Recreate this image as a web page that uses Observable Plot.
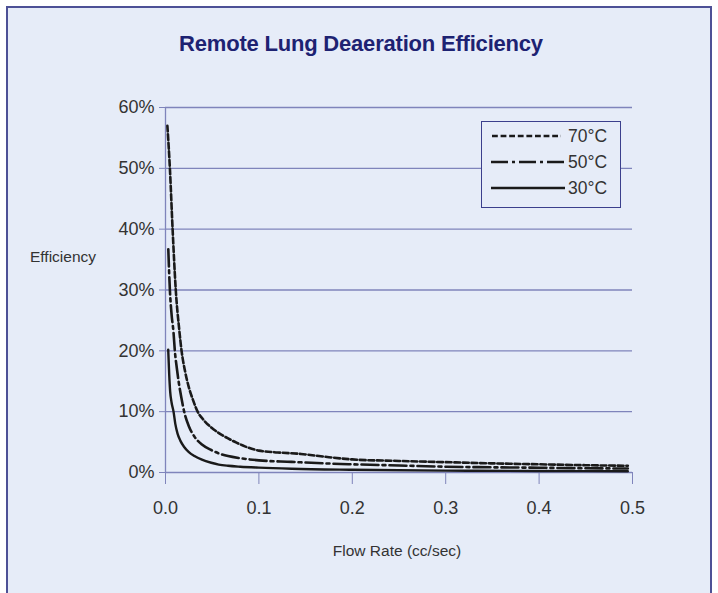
<!DOCTYPE html>
<html>
<head>
<meta charset="utf-8">
<script src="https://cdn.jsdelivr.net/npm/d3@7"></script>
<script src="https://cdn.jsdelivr.net/npm/@observablehq/plot@0.6"></script>
<style>
  html, body { margin: 0; padding: 0; background: #ffffff; }
  body { width: 718px; height: 593px; position: relative; overflow: hidden; font-family: "Liberation Sans", Arial, sans-serif; }
  #frame { position: absolute; left: 6px; top: 6px; width: 706px; height: 600px; border: 2px solid #4d5196; background: #e6ecf8; box-sizing: border-box; }
  #title { position: absolute; left: 0; top: 31px; width: 722px; text-align: center; font-size: 22px; font-weight: bold; color: #1d2272; line-height: 26px; letter-spacing: -0.2px; }
  #ylabel { position: absolute; left: 30px; top: 247px; font-size: 15.5px; color: #333; line-height: 20px; }
  #xlabel { position: absolute; left: 247px; width: 300px; top: 541px; text-align: center; font-size: 15.5px; color: #333; line-height: 20px; }
  #chart { position: absolute; left: 0; top: 0; }
  #legend { position: absolute; left: 481px; top: 121px; width: 140px; height: 87px; border: 1.5px solid #3b3f8c; background: #e6ecf8; box-sizing: border-box; }
  .row { position: absolute; left: 0; height: 20px; width: 140px; }
  .row svg { position: absolute; left: 9px; top: 0; }
  .row span { position: absolute; left: 86px; top: 0; font-size: 17.5px; color: #333; line-height: 20px; }
</style>
</head>
<body>
<div id="frame"></div>
<div id="title">Remote Lung Deaeration Efficiency</div>
<div id="ylabel">Efficiency</div>
<div id="xlabel">Flow Rate (cc/sec)</div>
<div id="chart"></div>
<div id="legend"></div>
<script>
// ---- data ----
const seriesNames = ["70°C", "50°C", "30°C"];

const flow70 = [0.002, 0.0047, 0.0076, 0.011, 0.0147, 0.0172, 0.021, 0.025, 0.0295, 0.0344, 0.041, 0.049, 0.058, 0.067, 0.076, 0.085, 0.1, 0.12, 0.145, 0.17, 0.2, 0.25, 0.3, 0.35, 0.4, 0.45, 0.495];
const eff70  = [57, 50, 40, 30, 23.5, 20, 16.6, 14, 11.9, 10, 8.6, 7.4, 6.4, 5.6, 4.9, 4.3, 3.6, 3.3, 3.05, 2.6, 2.15, 1.9, 1.7, 1.5, 1.35, 1.2, 1.1];

const flow50 = [0.003, 0.0047, 0.0065, 0.0086, 0.010, 0.012, 0.014, 0.017, 0.020, 0.025, 0.031, 0.039, 0.049, 0.057, 0.067, 0.08, 0.1, 0.135, 0.17, 0.2, 0.25, 0.3, 0.35, 0.4, 0.45, 0.495];
const eff50  = [36.7, 30, 26, 23, 20, 17.3, 15, 12.3, 10, 7.6, 5.9, 4.6, 3.7, 3.15, 2.7, 2.35, 2.0, 1.75, 1.5, 1.35, 1.15, 0.95, 0.85, 0.78, 0.7, 0.65];

const flow30 = [0.0029, 0.004, 0.005, 0.0065, 0.0086, 0.0105, 0.0129, 0.016, 0.020, 0.025, 0.031, 0.039, 0.049, 0.057, 0.067, 0.08, 0.1, 0.135, 0.2, 0.3, 0.4, 0.495];
const eff30  = [20.2, 16, 13.3, 11.5, 10, 8, 6.4, 5.2, 4.2, 3.35, 2.7, 2.1, 1.6, 1.3, 1.1, 0.95, 0.8, 0.62, 0.45, 0.3, 0.25, 0.2];

const xTicks = [0, 0.1, 0.2, 0.3, 0.4, 0.5];
const yTicks = [0, 10, 20, 30, 40, 50, 60];

// ---- styles ----
const gridColor = "#7f84bb";
const lineColor = "#1a1a1a";
const dashes = { "70°C": "5.8,2.8", "50°C": "17,4,3,4", "30°C": null };
const widths = { "70°C": 2.6, "50°C": 2.6, "30°C": 2.4 };

const table = [];
[[seriesNames[0], flow70, eff70], [seriesNames[1], flow50, eff50], [seriesNames[2], flow30, eff30]]
  .forEach(([name, xs, ys]) => xs.forEach((x, i) => table.push({series: name, flow: x, eff: ys[i]})));

const lineMarks = seriesNames.map(name => Plot.line(table.filter(d => d.series === name), {
  x: "flow", y: "eff", stroke: lineColor, strokeWidth: widths[name],
  strokeDasharray: dashes[name] || undefined, curve: "monotone-x"
}));

const chart = Plot.plot({
  width: 718, height: 593,
  marginLeft: 165, marginRight: 86, marginTop: 107, marginBottom: 121,
  style: { background: "transparent", fontFamily: "Liberation Sans, Arial, sans-serif", fontSize: "18px", color: "#333" },
  x: { domain: [0, 0.5] },
  y: { domain: [0, 60] },
  marks: [
    Plot.gridY(yTicks, { stroke: gridColor, strokeOpacity: 1, strokeWidth: 1.3 }),
    Plot.ruleX([0], { stroke: gridColor, strokeWidth: 1.3 }),
    Plot.axisY({ ticks: yTicks, tickFormat: d => d + "%", tickSize: 6, tickPadding: 5, stroke: gridColor, fill: "#333", label: null, fontSize: 18 }),
    Plot.axisX({ ticks: xTicks, tickFormat: d3.format(".1f"), tickSize: 12, tickPadding: 17, stroke: gridColor, fill: "#333", label: null, fontSize: 18 }),
    ...lineMarks
  ]
});
document.getElementById("chart").appendChild(chart);

// ---- legend ----
const legend = document.getElementById("legend");
const rowTops = [4, 30, 56];
seriesNames.forEach((name, i) => {
  const row = document.createElement("div");
  row.className = "row";
  row.style.top = rowTops[i] + "px";
  const sx = i === 0 ? 1 : 0, ex = i === 0 ? 70 : 74;
  row.innerHTML = `<svg width="76" height="20"><line x1="${sx}" x2="${ex}" y1="10" y2="10" stroke="${lineColor}" stroke-width="${widths[name]}" ${dashes[name] ? `stroke-dasharray="${dashes[name]}"` : ""}/></svg><span>${name}</span>`;
  legend.appendChild(row);
});
</script>
</body>
</html>
